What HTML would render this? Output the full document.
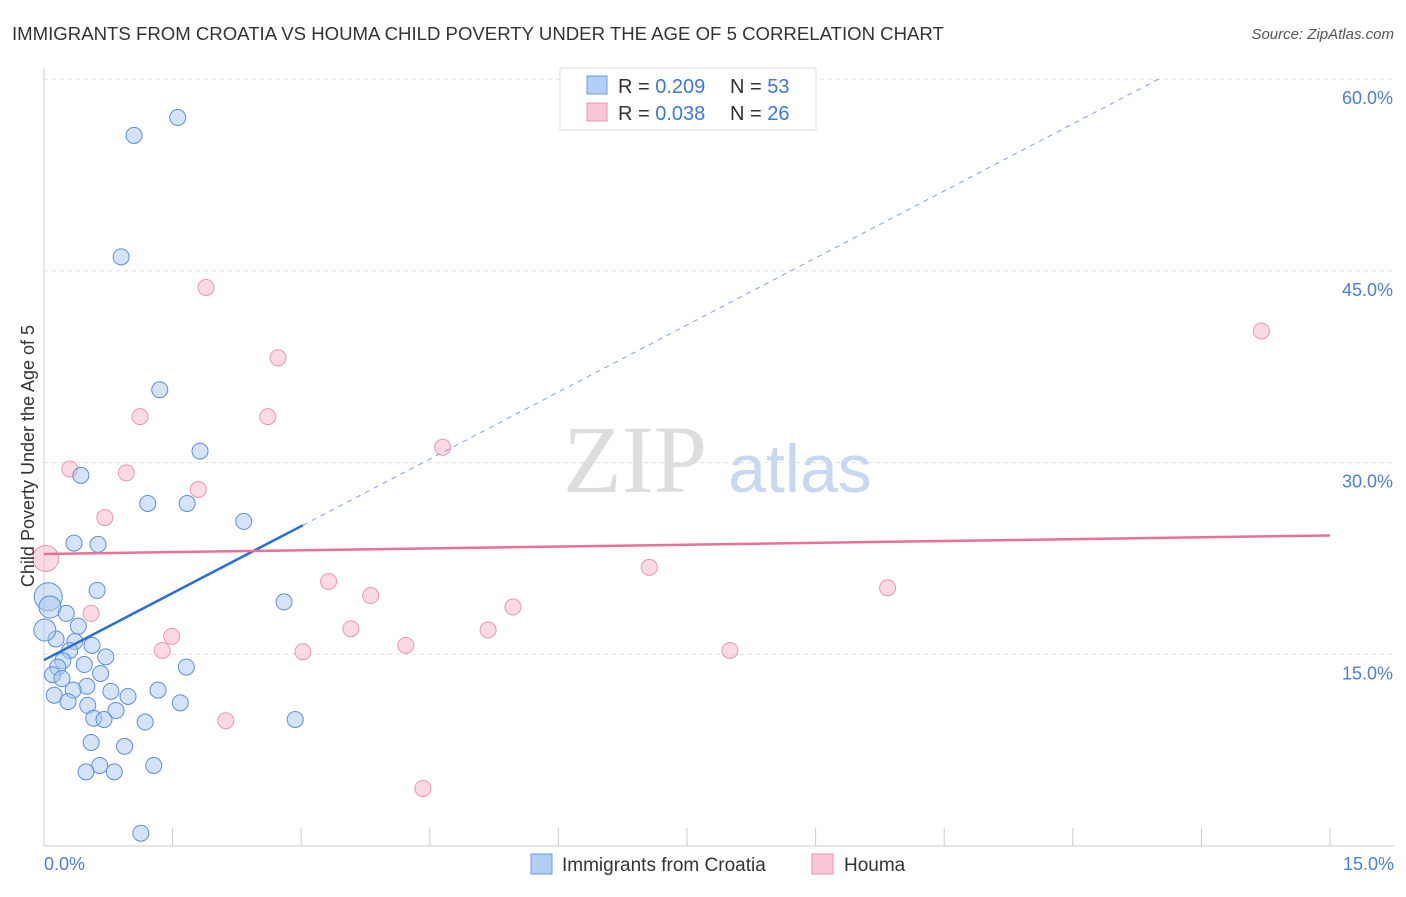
<!DOCTYPE html>
<html><head><meta charset="utf-8"><style>
body{margin:0;background:#fff;font-family:"Liberation Sans",sans-serif;}
</style></head><body>
<svg width="1406" height="892" xmlns="http://www.w3.org/2000/svg">
<text x="12" y="40" font-size="18.6" fill="#333">IMMIGRANTS FROM CROATIA VS HOUMA CHILD POVERTY UNDER THE AGE OF 5 CORRELATION CHART</text>
<text x="1394" y="39" font-size="15" fill="#555" font-style="italic" text-anchor="end">Source: ZipAtlas.com</text>
<g id="grid"></g>
<g id="axes"></g>
<text x="635" y="492" font-size="96" fill="#ddd" font-family="Liberation Serif,serif" text-anchor="middle">ZIP</text>
<text x="800" y="492" font-size="68" fill="#c8d8f0" text-anchor="middle">atlas</text>
<g id="marks"></g>
<text transform="translate(34,456) rotate(-90)" font-size="18" fill="#333" text-anchor="middle">Child Poverty Under the Age of 5</text>
<text x="44" y="870" font-size="18" fill="#4a7fd4">0.0%</text>
<text x="1394" y="870" font-size="18" fill="#4a7fd4" text-anchor="end">15.0%</text>
<g>
<rect x="560" y="68" width="256" height="62" fill="#fff" stroke="#ddd"/>
<rect x="587" y="76" width="20" height="18" fill="#b3cff5" stroke="#6a9be0"/>
<rect x="587" y="103" width="20" height="18" fill="#f9c6d5" stroke="#e898b0"/>
<text x="618" y="93" font-size="20" fill="#333">R = <tspan fill="#3b78d8">0.209</tspan></text>
<text x="730" y="93" font-size="20" fill="#333">N = <tspan fill="#3b78d8">53</tspan></text>
<text x="618" y="120" font-size="20" fill="#333">R = <tspan fill="#3b78d8">0.038</tspan></text>
<text x="730" y="120" font-size="20" fill="#333">N = <tspan fill="#3b78d8">26</tspan></text>
</g>
<g>
<rect x="531" y="854" width="21" height="20" fill="#b3cff5" stroke="#6a9be0"/>
<text x="562" y="871" font-size="19" fill="#333">Immigrants from Croatia</text>
<rect x="812" y="854" width="21" height="20" fill="#f9c6d5" stroke="#e898b0"/>
<text x="844" y="871" font-size="19" fill="#333">Houma</text>
</g>
</svg>
<script>
const yTicks=[15,30,45,60];
const yTickLabels=["15.0%","30.0%","45.0%","60.0%"];
const xTicks=[0,1.5,3,4.5,6,7.5,9,10.5,12,13.5,15];
const blueX=[1.56,1.05,0.90,1.35,1.82,0.43,1.21,1.67,2.33,0.35,0.63,0.62,0.05,0.07,0.26,2.80,0.40,0.14,0.56,0.36,0.30,0.22,0.72,0.16,0.47,1.66,0.10,0.66,0.21,0.50,0.34,1.33,0.78,0.98,0.12,0.28,0.51,1.59,0.84,0.58,0.70,1.18,2.93,0.55,0.94,0.65,1.28,0.49,0.82,1.13,0.01];
const blueY=[57.0,55.6,46.1,35.7,30.9,29.0,26.8,26.8,25.4,23.7,23.6,20.0,19.5,18.7,18.2,19.1,17.2,16.2,15.7,16.0,15.3,14.5,14.8,14.0,14.2,14.0,13.4,13.5,13.1,12.5,12.2,12.2,12.1,11.7,11.8,11.3,11.0,11.2,10.6,10.0,9.9,9.7,9.9,8.1,7.8,6.3,6.3,5.8,5.8,1.0,16.9];
const blueR=[8,8,8,8,8,8,8,8,8,8,8,8,14,11,8,8,8,8,8,8,8,8,8,8,8,8,8,8,8,8,8,8,8,8,8,8,8,8,8,8,8,8,8,8,8,8,8,8,8,8,11];
const pinkX=[1.89,2.73,14.20,1.12,2.61,4.65,0.30,0.96,1.80,0.71,0.02,7.06,3.32,9.84,3.81,5.47,0.55,3.58,5.18,1.49,4.22,1.38,3.02,8.00,2.12,4.42];
const pinkY=[43.7,38.2,40.3,33.6,33.6,31.2,29.5,29.2,27.9,25.7,22.5,21.8,20.7,20.2,19.6,18.7,18.2,17.0,16.9,16.4,15.7,15.3,15.2,15.3,9.8,4.5];
const blueTrend=[[0,14.55],[3.02,25.1]];
const blueTrendExt=[[3.02,25.1],[13.0,60]];
const pinkTrend=[[0,22.85],[15,24.3]];
const NS="http://www.w3.org/2000/svg";
const X=v=>44+v*(1286/15), Y=v=>846-v*12.78;
function mk(t,a,p){const e=document.createElementNS(NS,t);for(const k in a)e.setAttribute(k,a[k]);p.appendChild(e);return e;}
const grid=document.getElementById('grid'),axes=document.getElementById('axes'),marks=document.getElementById('marks');
yTicks.forEach((t,i)=>{
 const l=mk('line',{x1:44,x2:1394,y1:Y(t),y2:Y(t),stroke:'#ddd','stroke-dasharray':'4,4'},grid);
 
 
 const tx=mk('text',{x:1393,y:Y(t)+25,'font-size':18,fill:'#4a7fd4','text-anchor':'end'},axes);
 tx.textContent=yTickLabels[i];
 
 
});
const xa=mk('line',{x1:44,x2:1394,y1:846,y2:846,stroke:'#ccc'},axes);


const ya=mk('line',{x1:44,x2:44,y1:68,y2:846,stroke:'#ccc'},axes);


xTicks.forEach(t=>{
 const l=mk('line',{x1:X(t),x2:X(t),y1:828,y2:846,stroke:'#ccc'},axes);
 
 
});
pinkX.forEach((x,i)=>{
 const c=mk('circle',{cx:X(x),cy:Y(pinkY[i]),r:i==10?13:8,fill:'rgba(249,182,202,0.5)',stroke:'#e898b0','stroke-width':1},marks);
 
 
});
blueX.forEach((x,i)=>{
 const c=mk('circle',{cx:X(x),cy:Y(blueY[i]),r:blueR[i],fill:'rgba(170,200,240,0.5)',stroke:'#5b8fd9','stroke-width':1},marks);
 
 
});
const bt=mk('line',{x1:X(blueTrend[0][0]),y1:Y(blueTrend[0][1]),x2:X(blueTrend[1][0]),y2:Y(blueTrend[1][1]),stroke:'#2b6fd6','stroke-width':2.5},marks);


const be=mk('line',{x1:X(blueTrendExt[0][0]),y1:Y(blueTrendExt[0][1]),x2:X(blueTrendExt[1][0]),y2:Y(blueTrendExt[1][1]),stroke:'#7aa5e6','stroke-width':1,'stroke-dasharray':'5,5'},marks);


const pt=mk('line',{x1:X(pinkTrend[0][0]),y1:Y(pinkTrend[0][1]),x2:X(pinkTrend[1][0]),y2:Y(pinkTrend[1][1]),stroke:'#e8709a','stroke-width':2.5},marks);


</script>
</body></html>
